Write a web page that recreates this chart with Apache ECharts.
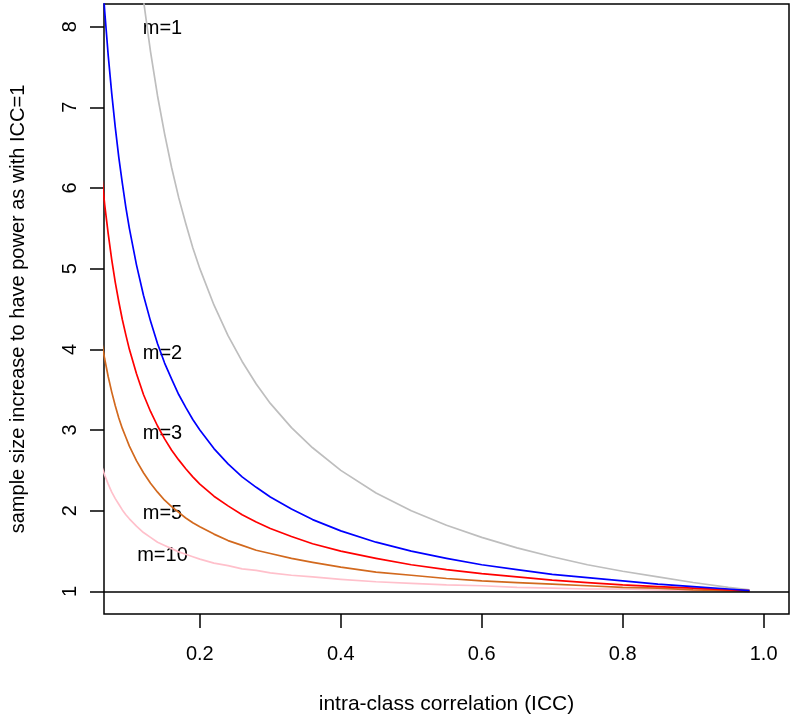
<!DOCTYPE html>
<html>
<head>
<meta charset="utf-8">
<script src="https://cdn.jsdelivr.net/npm/echarts@6/dist/echarts.min.js"></script>
<style>html,body{margin:0;padding:0;background:#fff}#c{width:794px;height:720px}</style>
</head>
<body>
<div id="c"></div>
<script>
// ICC values (x) shared by all curves
var icc = [0.06, 0.065, 0.07, 0.075, 0.08, 0.085, 0.09, 0.095, 0.10, 0.11, 0.12, 0.13, 0.14, 0.15, 0.16, 0.17, 0.18, 0.19, 0.20, 0.22, 0.24, 0.26, 0.28, 0.30, 0.33, 0.36, 0.40, 0.45, 0.50, 0.55, 0.60, 0.65, 0.70, 0.75, 0.80, 0.85, 0.90, 0.95, 0.98];
// sample size increase per cluster size m
var m1  = [16.67, 15.38, 14.29, 13.33, 12.5, 11.76, 11.11, 10.53, 10.0, 9.09, 8.33, 7.69, 7.14, 6.67, 6.25, 5.88, 5.56, 5.26, 5.0, 4.55, 4.17, 3.85, 3.57, 3.33, 3.03, 2.78, 2.5, 2.22, 2.0, 1.82, 1.67, 1.54, 1.43, 1.33, 1.25, 1.18, 1.11, 1.05, 1.02];
var m2  = [8.83, 8.19, 7.64, 7.17, 6.75, 6.38, 6.06, 5.76, 5.5, 5.05, 4.67, 4.35, 4.07, 3.83, 3.63, 3.44, 3.28, 3.13, 3.0, 2.77, 2.58, 2.42, 2.29, 2.17, 2.02, 1.89, 1.75, 1.61, 1.5, 1.41, 1.33, 1.27, 1.21, 1.17, 1.13, 1.09, 1.06, 1.03, 1.01];
var m3  = [6.22, 5.79, 5.43, 5.11, 4.83, 4.59, 4.37, 4.18, 4.0, 3.70, 3.44, 3.23, 3.05, 2.89, 2.75, 2.63, 2.52, 2.42, 2.33, 2.18, 2.06, 1.95, 1.86, 1.78, 1.68, 1.59, 1.5, 1.41, 1.33, 1.27, 1.22, 1.18, 1.14, 1.11, 1.08, 1.06, 1.04, 1.02, 1.01];
var m5  = [4.13, 3.88, 3.66, 3.47, 3.3, 3.15, 3.02, 2.91, 2.8, 2.62, 2.47, 2.34, 2.23, 2.13, 2.05, 1.98, 1.91, 1.85, 1.8, 1.71, 1.63, 1.57, 1.51, 1.47, 1.41, 1.36, 1.3, 1.24, 1.2, 1.16, 1.13, 1.11, 1.09, 1.07, 1.05, 1.04, 1.02, 1.01, 1.0];
var m10 = [2.57, 2.44, 2.33, 2.23, 2.15, 2.08, 2.01, 1.95, 1.9, 1.81, 1.73, 1.67, 1.61, 1.57, 1.53, 1.49, 1.46, 1.43, 1.4, 1.35, 1.32, 1.28, 1.26, 1.23, 1.20, 1.18, 1.15, 1.12, 1.1, 1.08, 1.07, 1.05, 1.04, 1.03, 1.03, 1.02, 1.01, 1.01, 1.0];
// tick labels
var xTicks = [0.2, 0.4, 0.6, 0.8, 1.0];
var yTicks = [1, 2, 3, 4, 5, 6, 7, 8];
// curve labels
var curveNames = ['m=1', 'm=2', 'm=3', 'm=5', 'm=10'];
var curveLabelX = [0.147, 0.147, 0.147, 0.147, 0.147];
var curveLabelY = [7.98, 3.95, 2.96, 1.97, 1.45];
var refLine = 1;

var FONT = 'Liberation Sans, Arial, sans-serif';
function pairs(ys) { return icc.map(function (x, i) { return [x, ys[i]]; }); }
function curve(name, ys, color) {
  return { name: name, type: 'line', data: pairs(ys), showSymbol: false, symbol: 'none',
    smooth: false, clip: true, silent: true,
    lineStyle: { color: color, width: 1.7, join: 'round' } };
}
var labelData = curveNames.map(function (n, i) { return [curveLabelX[i], curveLabelY[i], n]; });

var chart = echarts.init(document.getElementById('c'), null, { renderer: 'canvas' });
chart.setOption({
  animation: false,
  backgroundColor: '#ffffff',
  textStyle: { fontFamily: FONT },
  grid: { left: 102, right: 5, top: 4, bottom: 106, show: true, borderColor: '#000', borderWidth: 1.5, containLabel: false },
  xAxis: {
    type: 'value', min: 0.064, max: 1.036,
    name: 'intra-class correlation (ICC)', nameLocation: 'middle', nameGap: 80,
    nameTextStyle: { color: '#000', fontSize: 21, fontFamily: FONT },
    axisLine: { show: false },
    splitLine: { show: false },
    axisTick: { show: true, inside: false, length: 14, customValues: xTicks, lineStyle: { color: '#000', width: 1.5 } },
    axisLabel: { show: true, margin: 30, color: '#000', fontSize: 20, fontFamily: FONT, customValues: xTicks,
      formatter: function (v) { return (+v).toFixed(1); } }
  },
  yAxis: {
    type: 'value', min: 0.72, max: 8.28,
    name: 'sample size increase to have power as with ICC=1', nameLocation: 'middle', nameGap: 76, nameRotate: 90,
    nameTextStyle: { color: '#000', fontSize: 20, fontFamily: FONT },
    axisLine: { show: false },
    splitLine: { show: false },
    axisTick: { show: true, inside: false, length: 14, customValues: yTicks, lineStyle: { color: '#000', width: 1.5 } },
    axisLabel: { show: true, margin: 24, rotate: 90, color: '#000', fontSize: 20, fontFamily: FONT, customValues: yTicks,
      formatter: function (v) { return String(Math.round(v)); } }
  },
  series: [
    curve('m=1', m1, '#BEBEBE'),
    curve('m=10', m10, '#FFC0CB'),
    curve('m=5', m5, '#D2691E'),
    curve('m=3', m3, '#FF0000'),
    Object.assign(curve('m=2', m2, '#0000FF'), {
      markLine: { silent: true, symbol: ['none', 'none'], label: { show: false },
        lineStyle: { color: '#000', width: 1.5, type: 'solid' }, data: [{ yAxis: refLine }] }
    }),
    { name: 'labels', type: 'scatter', data: labelData, symbolSize: 1, silent: true,
      itemStyle: { opacity: 0 },
      label: { show: true, position: 'inside', color: '#000', opacity: 1, fontSize: 20, fontFamily: FONT,
        formatter: function (p) { return p.data[2]; } } }
  ]
});
</script>
</body>
</html>
